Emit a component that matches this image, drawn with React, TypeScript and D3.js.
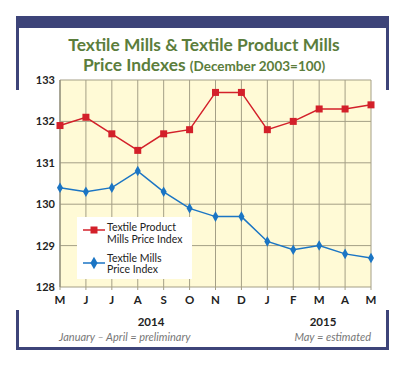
import React from 'react'
import * as d3 from 'd3'

const months = ['M', 'J', 'J', 'A', 'S', 'O', 'N', 'D', 'J', 'F', 'M', 'A', 'M']
const productMills = [131.9, 132.1, 131.7, 131.3, 131.7, 131.8, 132.7, 132.7, 131.8, 132.0, 132.3, 132.3, 132.4]
const textileMills = [130.4, 130.3, 130.4, 130.8, 130.3, 129.9, 129.7, 129.7, 129.1, 128.9, 129.0, 128.8, 128.7]
const yTicks = [128, 129, 130, 131, 132, 133]

const navy = '#3d4479'
const green = '#5b7d3c'
const red = '#d3202a'
const blue = '#1b75c4'
const font = 'Lato, "Open Sans", sans-serif'

const App = () => {
  const width = 400
  const height = 365
  const plot = { left: 60, right: 371, top: 80, bottom: 287 }

  const x = d3.scaleLinear().domain([0, months.length - 1]).range([plot.left, plot.right])
  const y = d3.scaleLinear().domain([128, 133]).range([plot.bottom, plot.top])

  const line = d3.line<number>()
    .x((d, i) => x(i))
    .y(d => y(d))

  const diamond = d3.symbol().type(d3.symbolDiamond).size(32)()
  const legendDiamond = d3.symbol().type(d3.symbolDiamond).size(45)()

  return (
    <svg width={width} height={height} style={{ position: 'absolute', left: 0, top: 0 }}>
      <rect width={width} height={height} fill="#fff" />

      {/* frame */}
      <rect x={16} y={16} width={373} height={12} fill={navy} />
      <rect x={16} y={28} width={3} height={62} fill={navy} />
      <rect x={386} y={28} width={3} height={62} fill={navy} />
      <rect x={16} y={310} width={3} height={40} fill={navy} />
      <rect x={386} y={310} width={3} height={40} fill={navy} />
      <rect x={16} y={347} width={373} height={3} fill={navy} />

      {/* title */}
      <text x={204} y={51} textAnchor="middle" fill={green} fontFamily={font} fontWeight="bold" fontSize={17.4}>
        Textile Mills &amp; Textile Product Mills
      </text>
      <text x={204} y={71} textAnchor="middle" fill={green} fontFamily={font} fontWeight="bold" fontSize={17.4}>
        Price Indexes <tspan fontSize={13.5}>(December 2003=100)</tspan>
      </text>

      {/* plot */}
      <rect x={plot.left} y={plot.top} width={plot.right - plot.left} height={plot.bottom - plot.top} fill="#fffad6" />
      {yTicks.map(t => (
        <line key={'h' + t} x1={plot.left} x2={plot.right} y1={y(t)} y2={y(t)} stroke="#a49f86" strokeWidth={1} />
      ))}
      {months.map((m, i) => (
        <line key={'v' + i} x1={x(i)} x2={x(i)} y1={plot.top} y2={plot.bottom + 3} stroke="#a49f86" strokeWidth={1} />
      ))}
      <line x1={plot.left} x2={plot.left} y1={plot.top} y2={plot.bottom} stroke="#8d8a78" strokeWidth={1.2} />

      {yTicks.map(t => (
        <text key={'y' + t} x={55} y={y(t) + 4} textAnchor="end" fontFamily={font} fontWeight="bold" fontSize={11} fill="#222">
          {t}
        </text>
      ))}
      {months.map((m, i) => (
        <text key={'m' + i} x={x(i)} y={304} textAnchor="middle" fontFamily={font} fontWeight="bold" fontSize={11.5} fill="#222">
          {m}
        </text>
      ))}

      {/* series */}
      <path d={line(productMills) || ''} fill="none" stroke={red} strokeWidth={1.5} />
      {productMills.map((v, i) => (
        <rect key={'r' + i} x={x(i) - 3.5} y={y(v) - 3.5} width={7} height={7} fill={red} />
      ))}
      <path d={line(textileMills) || ''} fill="none" stroke={blue} strokeWidth={1.5} />
      {textileMills.map((v, i) => (
        <path key={'b' + i} d={diamond || ''} transform={`translate(${x(i)},${y(v)})`} fill={blue} />
      ))}

      {/* legend */}
      <rect x={77} y={217} width={115} height={62} fill="#fff" />
      <line x1={83} x2={105} y1={230} y2={230} stroke={red} strokeWidth={1.5} />
      <rect x={90.5} y={226.5} width={7} height={7} fill={red} />
      <text fontFamily={font} fontSize={10.5} fill="#222">
        <tspan x={107} y={231}>Textile Product</tspan>
        <tspan x={107} y={242.5}>Mills Price Index</tspan>
      </text>
      <line x1={83} x2={105} y1={263} y2={263} stroke={blue} strokeWidth={1.5} />
      <path d={legendDiamond || ''} transform="translate(94,263)" fill={blue} />
      <text fontFamily={font} fontSize={10.5} fill="#222">
        <tspan x={107} y={261.5}>Textile Mills</tspan>
        <tspan x={107} y={273}>Price Index</tspan>
      </text>

      {/* footer */}
      <text x={151} y={326} textAnchor="middle" fontFamily={font} fontWeight="bold" fontSize={11.5} fill="#222">2014</text>
      <text x={323} y={326} textAnchor="middle" fontFamily={font} fontWeight="bold" fontSize={11.5} fill="#222">2015</text>
      <text x={59} y={341} fontFamily={font} fontStyle="italic" fontSize={11} fill="#777">January – April = preliminary</text>
      <text x={371} y={341} textAnchor="end" fontFamily={font} fontStyle="italic" fontSize={11} fill="#777">May = estimated</text>
    </svg>
  )
}

export default App
